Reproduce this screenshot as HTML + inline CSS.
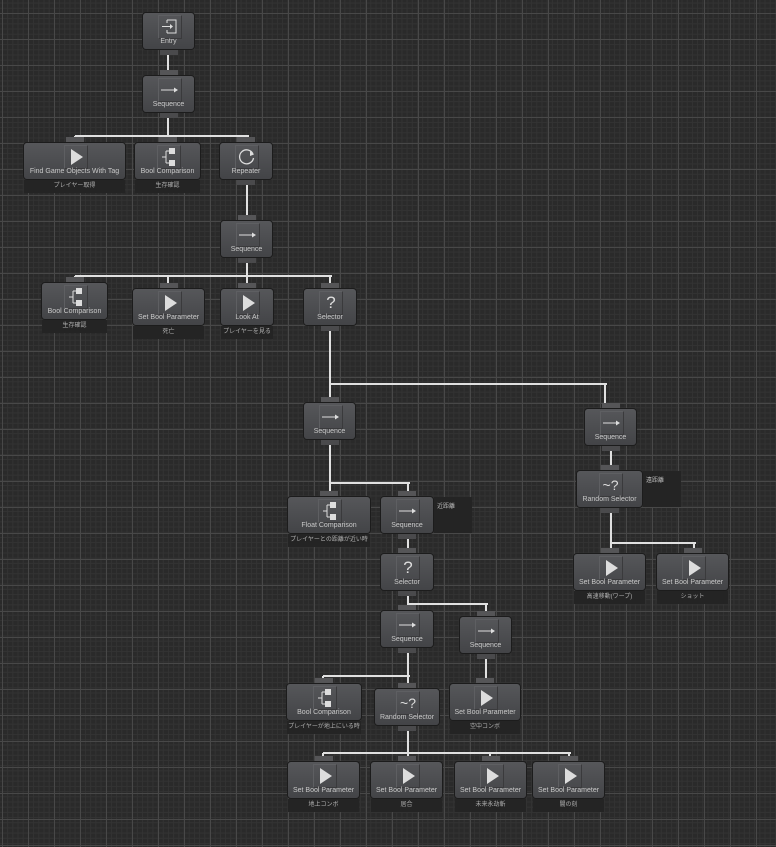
<!DOCTYPE html><html><head><meta charset="utf-8"><style>
body{margin:0;width:776px;height:847px;overflow:hidden;background:#2a2a2a;
background-image:linear-gradient(#484848 1px,transparent 1px),linear-gradient(90deg,#484848 1px,transparent 1px),linear-gradient(#333 1px,transparent 1px),linear-gradient(90deg,#333 1px,transparent 1px);
background-size:26px 26px,26px 26px,5.2px 5.2px,5.2px 5.2px;background-position:2px 13px,2px 13px,2px 13px,2px 13px;
font-family:"Liberation Sans","Noto Sans CJK JP",sans-serif;position:relative}
.n{position:absolute;border-radius:3px;background:linear-gradient(#56575a,#434447);box-shadow:0 0 0 1px #1c1c1c;color:#c8c8c8;font-size:7px;text-align:center}
.n .t{position:absolute;left:0;right:0;bottom:4px;white-space:nowrap}
.n .ic{position:absolute;left:50%;top:2px;width:22px;height:22px;margin-left:-11px;border:1px solid #5e5f62;border-right-color:#3a3a3c;border-bottom-color:#3a3a3c;color:#ddd;font-size:17px;line-height:22px}
.tp{position:absolute;height:6px;background:#555557}
.bt{position:absolute;height:6px;background:#4a4a4c}
.lb{position:absolute;background:#242424;color:#b0b0b0;font-size:6px;text-align:center;line-height:13px;height:13px;white-space:nowrap}
.cm{position:absolute;background:#242424;color:#bbb;font-size:6px;padding:4px 3px;box-sizing:border-box}
.l{position:absolute;background:#e0e0e0}
.tri{position:absolute;left:6px;top:3px;width:0;height:0;border-left:12px solid #ddd;border-top:8px solid transparent;border-bottom:8px solid transparent}
</style></head><body>
<script>
var g=document.body;
function L(x1,y1,x2,y2){var d=document.createElement('div');d.className='l';
if(y1==y2){d.style.cssText='left:'+Math.min(x1,x2)+'px;top:'+(y1-1)+'px;width:'+(Math.abs(x2-x1)+2)+'px;height:2px';}
else{d.style.cssText='left:'+(x1-1)+'px;top:'+Math.min(y1,y2)+'px;width:2px;height:'+Math.abs(y2-y1)+'px';}g.appendChild(d);}
var icons={
play:'<div class="tri"></div>',
seq:'<svg width="22" height="22"><line x1="2" y1="11" x2="18" y2="11" stroke="#ddd" stroke-width="1"/><path d="M15 8.5L19 11L15 13.5Z" fill="#ddd"/></svg>',
sel:'?',
rnd:'<span style="font-size:14px">~?</span>',
cmp:'<svg width="22" height="22"><path d="M4 11H8M8 5V17M8 5H11M8 17H11" stroke="#ddd" fill="none"/><rect x="11" y="2" width="6" height="6" fill="#ddd"/><rect x="11" y="14" width="6" height="6" fill="#ddd"/></svg>',
rep:'<svg width="22" height="22"><path d="M17 8A7 7 0 1 0 17.5 12" stroke="#ddd" stroke-width="1.3" fill="none"/><path d="M14 5L18 8.5L14 10Z" fill="#ddd"/></svg>',
ent:'<svg width="22" height="22"><path d="M8 4H17V17H8M8 4V7M8 14V17" stroke="#ddd" fill="none"/><line x1="3" y1="10.5" x2="13" y2="10.5" stroke="#ddd"/><path d="M11 8L14 10.5L11 13Z" fill="#ddd"/></svg>'};
function N(x,y,w,ic,t,lab,top,bot,lw){var h=36;var cx=x+w/2;
if(top){var a=document.createElement('div');a.className='tp';a.style.cssText='left:'+(cx-9)+'px;top:'+(y-6)+'px;width:18px';g.appendChild(a);}
if(bot){var b=document.createElement('div');b.className='bt';b.style.cssText='left:'+(cx-9)+'px;top:'+(y+h)+'px;width:18px';g.appendChild(b);}
var d=document.createElement('div');d.className='n';d.style.cssText='left:'+x+'px;top:'+y+'px;width:'+w+'px;height:'+h+'px';
d.innerHTML='<div class="ic">'+icons[ic]+'</div><div class="t">'+t+'</div>';g.appendChild(d);
if(lab){var l=document.createElement('div');l.className='lb';var W=lw||w;l.style.cssText='left:'+(cx-W/2)+'px;top:'+(y+h+1)+'px;width:'+W+'px';l.textContent=lab;g.appendChild(l);}}
function C(x,y,t){var c=document.createElement('div');c.className='cm';c.style.cssText='left:'+x+'px;top:'+y+'px;width:38px;height:36px';c.textContent=t;g.appendChild(c);}
L(168,50,168,71);L(168,112,168,136);L(75,136,247,136);L(75,136,75,138);L(168,136,168,138);L(247,136,247,138);
L(247,185,247,215);L(247,257,247,276);L(75,276,330,276);L(75,276,75,278);L(168,276,168,284);L(247,276,247,284);L(330,276,330,284);
L(330,330,330,384);L(330,384,605,384);L(330,384,330,398);L(605,384,605,404);
L(330,444,330,483);L(330,483,408,483);L(330,483,330,492);L(408,483,408,492);
L(408,538,408,549);L(408,595,408,604);L(408,604,486,604);L(486,604,486,612);L(408,604,408,606);
L(408,652,408,676);L(323,676,408,676);L(323,676,323,679);L(408,676,408,684);
L(486,658,486,679);
L(408,730,408,753);L(323,753,569,753);L(323,753,323,757);L(408,753,408,757);L(490,753,490,757);L(569,753,569,757);
L(611,450,611,466);L(611,512,611,543);L(611,543,694,543);L(611,543,611,549);L(694,543,694,549);
N(143,13,51,'ent','Entry','',0,1);
N(143,76,51,'seq','Sequence','',1,1);
N(24,143,101,'play','Find Game Objects With Tag','プレイヤー取得',1,0);
N(135,143,65,'cmp','Bool Comparison','生存確認',1,0);
N(220,143,52,'rep','Repeater','',1,1);
N(221,221,51,'seq','Sequence','',1,1);
N(42,283,65,'cmp','Bool Comparison','生存確認',1,0);
N(133,289,71,'play','Set Bool Parameter','死亡',1,0);
N(221,289,52,'play','Look At','プレイヤーを見る',1,0,52);
N(304,289,52,'sel','Selector','',1,1);
N(304,403,51,'seq','Sequence','',1,1);
N(585,409,51,'seq','Sequence','',1,1);
N(288,497,82,'cmp','Float Comparison','プレイヤーとの距離が近い時',1,0);
N(381,497,52,'seq','Sequence','',1,1);C(434,497,'近距離');
N(381,554,52,'sel','Selector','',1,1);
N(381,611,52,'seq','Sequence','',1,1);
N(460,617,51,'seq','Sequence','',1,1);
N(287,684,74,'cmp','Bool Comparison','プレイヤーが地上にいる時',1,0);
N(375,689,64,'rnd','Random Selector','',1,1);
N(450,684,70,'play','Set Bool Parameter','空中コンボ',1,0);
N(288,762,71,'play','Set Bool Parameter','地上コンボ',1,0);
N(371,762,71,'play','Set Bool Parameter','居合',1,0);
N(455,762,71,'play','Set Bool Parameter','未来永劫斬',1,0);
N(533,762,71,'play','Set Bool Parameter','闇の刻',1,0);
N(577,471,65,'rnd','Random Selector','',1,1);C(643,471,'遠距離');
N(574,554,71,'play','Set Bool Parameter','高速移動(ワープ)',1,0);
N(657,554,71,'play','Set Bool Parameter','ショット',1,0);
</script></body></html>
